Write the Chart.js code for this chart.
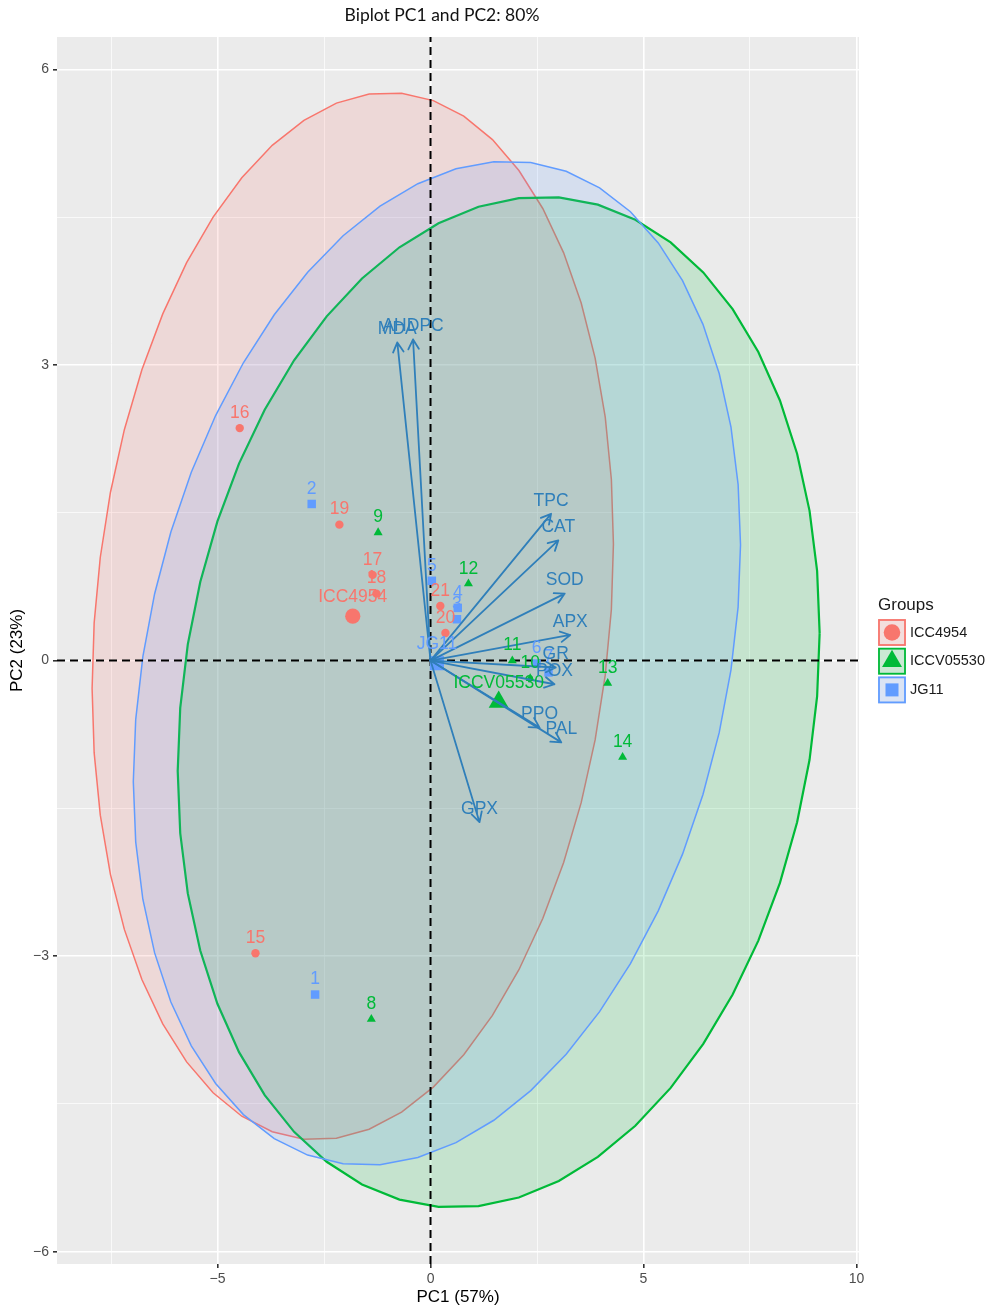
<!DOCTYPE html>
<html>
<head>
<meta charset="utf-8">
<script src="https://cdn.jsdelivr.net/npm/chart.js@4.4.1/dist/chart.umd.min.js"></script>
<style>
  html, body { margin: 0; padding: 0; background: #fff; }
</style>
</head>
<body>
<canvas id="biplot" width="997" height="1310"></canvas>
<script>
// axis limits (data units) and grid steps
const xLimits = [-8.77, 10.06];
const yLimits = [-6.125, 6.33];
const xMajor = 5, xMinor = 2.5;
const yMajor = 3, yMinor = 1.5;

const groupNames = ["ICC4954", "ICCV05530", "JG11"];
const groupColors = ["#F8766D", "#00BA38", "#619CFF"];
const groupFills = ["rgba(248,118,109,0.16)", "rgba(0,186,56,0.16)", "rgba(97,156,255,0.16)"];
const groupShapes = ["circle", "triangle", "rect"];

// sample scores per group
const iccLabels = ["15", "16", "17", "18", "19", "20", "21"];
const iccPC1 = [-4.11, -4.48, -1.36, -1.27, -2.14, 0.35, 0.23];
const iccPC2 = [-2.97, 2.36, 0.87, 0.68, 1.38, 0.28, 0.555];

const iccvLabels = ["8", "9", "10", "11", "12", "13", "14"];
const iccvPC1 = [-1.39, -1.23, 2.34, 1.92, 0.89, 4.16, 4.51];
const iccvPC2 = [-3.64, 1.30, -0.18, 0.0, 0.78, -0.23, -0.98];

const jgLabels = ["1", "2", "3", "4", "5", "6", "7"];
const jgPC1 = [-2.71, -2.79, 0.62, 0.64, 0.03, 2.49, 2.77];
const jgPC2 = [-3.39, 1.59, 0.42, 0.535, 0.81, -0.03, -0.12];

// variable loadings (arrow tips)
const varNames = ["MDA", "AHDPC", "TPC", "CAT", "SOD", "APX", "GR", "POX", "PPO", "PAL", "GPX"];
const varPC1 = [-0.78, -0.41, 2.83, 3.0, 3.15, 3.28, 2.94, 2.91, 2.56, 3.07, 1.15];
const varPC2 = [3.23, 3.26, 1.49, 1.22, 0.68, 0.26, -0.07, -0.24, -0.68, -0.83, -1.64];

const ellipseLevel = 0.95;
const arrowColor = "#2F7FBA";
const labelFont = '17.5px "Liberation Sans", Arial, sans-serif';

const groups = [
  { labels: iccLabels, xs: iccPC1, ys: iccPC2 },
  { labels: iccvLabels, xs: iccvPC1, ys: iccvPC2 },
  { labels: jgLabels, xs: jgPC1, ys: jgPC2 },
];

function mean(a) {
  return a.reduce((s, v) => s + v, 0) / a.length;
}

// same as ggplot2 stat_ellipse(type = "norm"): radius = sqrt(2 * qf(level, 2, n - 1))
function ellipse(xs, ys) {
  const n = xs.length;
  const mx = mean(xs), my = mean(ys);
  let sxx = 0, sxy = 0, syy = 0;
  for (let i = 0; i < n; i++) {
    const dx = xs[i] - mx, dy = ys[i] - my;
    sxx += dx * dx; sxy += dx * dy; syy += dy * dy;
  }
  sxx /= n - 1; sxy /= n - 1; syy /= n - 1;
  const dfd = n - 1;
  const fq = dfd / 2 * (Math.pow(1 - ellipseLevel, -2 / dfd) - 1);
  const r = Math.sqrt(2 * fq);
  const r11 = Math.sqrt(sxx), r12 = sxy / r11, r22 = Math.sqrt(syy - r12 * r12);
  const pts = [];
  for (let i = 0; i <= 50; i++) {
    const t = 2 * Math.PI * i / 50;
    const c = Math.cos(t), s = Math.sin(t);
    pts.push({ x: mx + r * c * r11, y: my + r * (c * r12 + s * r22) });
  }
  return pts;
}

const datasets = [];

groups.forEach((g, i) => {
  datasets.push({
    label: groupNames[i] + " ellipse",
    data: ellipse(g.xs, g.ys),
    showLine: true,
    fill: "shape",
    backgroundColor: groupFills[i],
    borderColor: groupColors[i],
    borderWidth: i === 1 ? 2.2 : 1.5,
    pointRadius: 0,
    tension: 0,
    order: 10 - i,
  });
});

datasets.push({
  label: "h0",
  data: [{ x: xLimits[0], y: 0 }, { x: xLimits[1], y: 0 }],
  showLine: true, borderColor: "#000", borderWidth: 2, borderDash: [8, 5],
  pointRadius: 0, order: 5,
});
datasets.push({
  label: "v0",
  data: [{ x: 0, y: yLimits[0] }, { x: 0, y: yLimits[1] }],
  showLine: true, borderColor: "#000", borderWidth: 2, borderDash: [8, 5],
  pointRadius: 0, order: 5,
});

const smallRadius = [4.2, 5.2, 6];
const bigRadius = [7.6, 11.5, 10];

groups.forEach((g, i) => {
  datasets.push({
    label: groupNames[i],
    data: g.xs.map((x, k) => ({ x: x, y: g.ys[k] })),
    pointStyle: groupShapes[i],
    pointRadius: smallRadius[i],
    pointBackgroundColor: groupColors[i],
    pointBorderWidth: 0,
    order: 2,
  });
  datasets.push({
    label: groupNames[i] + " centre",
    data: [{ x: mean(g.xs), y: mean(g.ys) }],
    pointStyle: groupShapes[i],
    pointRadius: bigRadius[i],
    pointBackgroundColor: groupColors[i],
    pointBorderWidth: 0,
    order: 1,
  });
});

const panelBackground = {
  id: "panelBackground",
  beforeDraw(chart) {
    const { ctx, chartArea: a } = chart;
    ctx.save();
    ctx.fillStyle = "#EBEBEB";
    ctx.fillRect(a.left, a.top, a.right - a.left, a.bottom - a.top);
    ctx.restore();
  },
};

function drawArrow(ctx, x0, y0, x1, y1) {
  const ang = Math.atan2(y1 - y0, x1 - x0);
  const len = 11, spread = 0.5;
  ctx.beginPath();
  ctx.moveTo(x0, y0);
  ctx.lineTo(x1, y1);
  ctx.moveTo(x1 - len * Math.cos(ang - spread), y1 - len * Math.sin(ang - spread));
  ctx.lineTo(x1, y1);
  ctx.lineTo(x1 - len * Math.cos(ang + spread), y1 - len * Math.sin(ang + spread));
  ctx.stroke();
}

const biplotLayer = {
  id: "biplotLayer",
  afterDatasetsDraw(chart) {
    const { ctx, chartArea: a } = chart;
    const sx = chart.scales.x, sy = chart.scales.y;
    ctx.save();
    ctx.beginPath();
    ctx.rect(a.left, a.top, a.right - a.left, a.bottom - a.top);
    ctx.clip();

    const ox = sx.getPixelForValue(0), oy = sy.getPixelForValue(0);
    ctx.strokeStyle = arrowColor;
    ctx.lineWidth = 1.8;
    ctx.lineCap = "round";
    ctx.lineJoin = "round";
    varNames.forEach((n, i) => {
      drawArrow(ctx, ox, oy, sx.getPixelForValue(varPC1[i]), sy.getPixelForValue(varPC2[i]));
    });

    ctx.font = labelFont;
    ctx.textAlign = "center";
    ctx.textBaseline = "middle";

    groups.forEach((g, i) => {
      ctx.fillStyle = groupColors[i];
      g.labels.forEach((lab, k) => {
        ctx.fillText(lab, sx.getPixelForValue(g.xs[k]), sy.getPixelForValue(g.ys[k]) - 15);
      });
      ctx.fillText(groupNames[i], sx.getPixelForValue(mean(g.xs)), sy.getPixelForValue(mean(g.ys)) - 19);
    });

    ctx.fillStyle = arrowColor;
    varNames.forEach((n, i) => {
      ctx.fillText(n, sx.getPixelForValue(varPC1[i]), sy.getPixelForValue(varPC2[i]) - 13);
    });
    ctx.restore();
  },
  afterDraw(chart) {
    const { ctx } = chart;
    ctx.save();
    // title
    ctx.fillStyle = "#111";
    ctx.font = '17.5px Lato, "Open Sans", sans-serif';
    ctx.textAlign = "center";
    ctx.textBaseline = "middle";
    ctx.fillText("Biplot PC1 and PC2: 80%", 442, 15);

    // legend
    ctx.textAlign = "left";
    ctx.fillStyle = "#1A1A1A";
    ctx.font = '17px "Liberation Sans", Arial, sans-serif';
    ctx.fillText("Groups", 878, 605);
    ctx.font = '14.5px "Liberation Sans", Arial, sans-serif';
    groupNames.forEach((name, i) => {
      const bx = 878, by = 619 + i * 28.7, bw = 28, bh = 27;
      const cx = bx + bw / 2, cy = by + bh / 2;
      ctx.fillStyle = "#F2F2F2";
      ctx.fillRect(bx, by, bw, bh);
      ctx.fillStyle = groupFills[i];
      ctx.fillRect(bx, by, bw, bh);
      ctx.strokeStyle = groupColors[i];
      ctx.lineWidth = 1.8;
      ctx.strokeRect(bx + 1, by + 1, bw - 2, bh - 2);
      ctx.fillStyle = groupColors[i];
      ctx.beginPath();
      if (groupShapes[i] === "circle") {
        ctx.arc(cx, cy, 8.3, 0, Math.PI * 2);
      } else if (groupShapes[i] === "triangle") {
        const r = 11.5;
        ctx.moveTo(cx, cy - r);
        ctx.lineTo(cx + r * Math.sin(2 * Math.PI / 3), cy - r * Math.cos(2 * Math.PI / 3));
        ctx.lineTo(cx - r * Math.sin(2 * Math.PI / 3), cy - r * Math.cos(2 * Math.PI / 3));
        ctx.closePath();
      } else {
        ctx.rect(cx - 6.5, cy - 6.5, 13, 13);
      }
      ctx.fill();
      ctx.fillStyle = "#1A1A1A";
      ctx.fillText(name, 910, cy);
    });
    ctx.restore();
  },
};

function minusFmt(v) {
  return v < 0 ? "\u2212" + Math.abs(v) : String(v);
}
function isMajor(v, step) {
  return Math.abs(v / step - Math.round(v / step)) < 1e-6;
}

new Chart(document.getElementById("biplot"), {
  type: "scatter",
  data: { datasets: datasets },
  options: {
    responsive: false,
    animation: false,
    layout: { padding: { top: 37, right: 138, bottom: 0, left: 0 } },
    plugins: { legend: { display: false }, tooltip: { enabled: false }, title: { display: false } },
    scales: {
      x: {
        type: "linear",
        min: xLimits[0], max: xLimits[1],
        afterFit: s => { s.height = 46; },
        border: { display: false },
        grid: {
          color: "#FFFFFF",
          lineWidth: c => (c.tick && isMajor(c.tick.value, xMajor) ? 1.6 : 0.7),
          tickColor: c => (c.tick && isMajor(c.tick.value, xMajor) ? "#333333" : "rgba(0,0,0,0)"),
          tickLength: 4,
        },
        ticks: {
          stepSize: xMinor, includeBounds: false, autoSkip: false, maxRotation: 0,
          padding: 3, color: "#4D4D4D",
          font: { family: '"Liberation Sans", Arial, sans-serif', size: 14 },
          callback: v => (isMajor(v, xMajor) ? minusFmt(v) : ""),
        },
        title: {
          display: true, text: "PC1 (57%)", color: "#000",
          font: { family: '"Liberation Sans", Arial, sans-serif', size: 17 },
          padding: { top: 0, bottom: 2 },
        },
      },
      y: {
        type: "linear",
        min: yLimits[0], max: yLimits[1],
        afterFit: s => { s.width = 57; },
        border: { display: false },
        grid: {
          color: "#FFFFFF",
          lineWidth: c => (c.tick && isMajor(c.tick.value, yMajor) ? 1.6 : 0.7),
          tickColor: c => (c.tick && isMajor(c.tick.value, yMajor) ? "#333333" : "rgba(0,0,0,0)"),
          tickLength: 4,
        },
        ticks: {
          stepSize: yMinor, includeBounds: false, autoSkip: false,
          padding: 4, color: "#4D4D4D",
          font: { family: '"Liberation Sans", Arial, sans-serif', size: 14 },
          callback: v => (isMajor(v, yMajor) ? minusFmt(v) : ""),
        },
        title: {
          display: true, text: "PC2 (23%)", color: "#000",
          font: { family: '"Liberation Sans", Arial, sans-serif', size: 17 },
          padding: { top: 7, bottom: 0 },
        },
      },
    },
  },
  plugins: [panelBackground, biplotLayer],
});
</script>
</body>
</html>
